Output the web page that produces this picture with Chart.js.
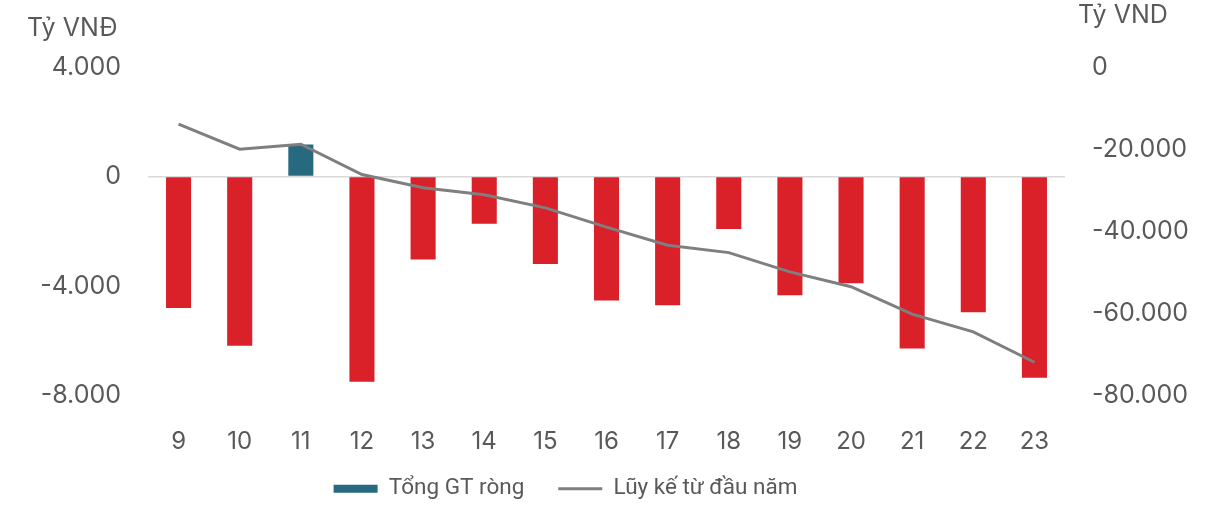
<!DOCTYPE html>
<html>
<head>
<meta charset="utf-8">
<script src="https://cdn.jsdelivr.net/npm/chart.js@4"></script>
<style>
  html, body { margin: 0; padding: 0; background: #fff; }
  #wrap { width: 1221px; height: 505px; }
</style>
</head>
<body>
<div id="wrap"><canvas id="chart"></canvas></div>
<script>
const weeks = ['9', '10', '11', '12', '13', '14', '15', '16', '17', '18', '19', '20', '21', '22', '23'];
// Tổng GT ròng (tỷ VNĐ, trục trái)
const netValue = [-4800, -6180, 1170, -7500, -3030, -1730, -3200, -4530, -4700, -1915, -4340, -3900, -6280, -4960, -7350];
// Lũy kế từ đầu năm (tỷ VND, trục phải)
const ytdValue = [-13900, -20000, -18800, -26200, -29400, -31100, -34300, -39000, -43400, -45200, -49900, -53500, -60200, -64500, -71900];
const leftTicks = [4000, 0, -4000, -8000];
const rightTicks = [0, -20000, -40000, -60000, -80000];

const AXIS_FONT = 'Inter';
const LEGEND_FONT = 'Roboto';
const GREY = '#595959';
const fmt = v => v.toLocaleString('de-DE');

// vẽ tên trục ở góc trên
const axisTitles = {
  id: 'axisTitles',
  afterLayout(chart) {
    // nhãn trục x không bị cắt bởi vùng legend
    chart.scales.x.bottom = chart.height;
    // legend lệch trái như bản gốc
    chart.legend.left -= 45;
    chart.legend.right -= 45;
  },
  afterDraw(chart) {
    const ctx = chart.ctx;
    ctx.save();
    ctx.fillStyle = GREY;
    ctx.font = '25px ' + AXIS_FONT;
    ctx.textBaseline = 'middle';
    ctx.textAlign = 'left';
    ctx.fillText('Tỷ VNĐ', 27, 28);
    ctx.fillText('Tỷ VND', 1078, 15);
    ctx.restore();
  }
};

new Chart(document.getElementById('chart'), {
  data: {
    labels: weeks,
    datasets: [
      {
        type: 'bar',
        label: 'Tổng GT ròng',
        data: netValue,
        yAxisID: 'y',
        backgroundColor: netValue.map(v => v > 0 ? '#276A80' : '#DA2028'),
        barPercentage: 1,
        categoryPercentage: 0.41,
        order: 2
      },
      {
        type: 'line',
        label: 'Lũy kế từ đầu năm',
        data: ytdValue,
        yAxisID: 'y1',
        borderColor: '#7F7F7F',
        backgroundColor: '#7F7F7F',
        borderWidth: 3,
        pointRadius: 0,
        tension: 0,
        order: 1
      }
    ]
  },
  options: {
    responsive: true,
    maintainAspectRatio: false,
    animation: false,
    layout: { padding: { top: 67, left: 0, right: 0, bottom: -5 } },
    plugins: {
      tooltip: { enabled: false },
      legend: {
        position: 'bottom',
        labels: {
          color: GREY,
          font: { family: LEGEND_FONT, size: 22.5 },
          usePointStyle: true,
          pointStyleWidth: 44,
          boxHeight: 8,
          padding: 34,
          generateLabels(chart) {
            const items = Chart.defaults.plugins.legend.labels.generateLabels(chart);
            items.sort((a, b) => a.datasetIndex - b.datasetIndex);
            items[0].pointStyle = 'rect';
            items[0].fillStyle = '#276A80';
            items[0].strokeStyle = '#276A80';
            items[0].lineWidth = 0;
            items[1].pointStyle = 'line';
            items[1].strokeStyle = '#7F7F7F';
            items[1].lineWidth = 3;
            return items;
          }
        }
      }
    },
    scales: {
      x: {
        grid: { display: false },
        border: { display: false },
        ticks: { color: GREY, font: { family: AXIS_FONT, size: 24 }, padding: 24, maxRotation: 0 },
        afterFit(scale) { scale.height = 48; }
      },
      y: {
        position: 'left',
        min: -8000,
        max: 4000,
        afterBuildTicks(scale) { scale.ticks = leftTicks.map(v => ({ value: v })); },
        ticks: { color: GREY, font: { family: AXIS_FONT, size: 25 }, padding: 27, callback: v => fmt(v) },
        grid: {
          drawTicks: false,
          color: ctx => ctx.tick && ctx.tick.value === 0 ? '#D9D9D9' : 'transparent',
          lineWidth: 1.5
        },
        border: { display: false },
        afterFit(scale) { scale.width = 148; }
      },
      y1: {
        position: 'right',
        min: -80000,
        max: 0,
        afterBuildTicks(scale) { scale.ticks = rightTicks.map(v => ({ value: v })); },
        ticks: { color: GREY, font: { family: AXIS_FONT, size: 25 }, padding: 27, callback: v => fmt(v) },
        grid: { display: false, drawTicks: false },
        border: { display: false },
        afterFit(scale) { scale.width = 156; }
      }
    }
  },
  plugins: [axisTitles]
});
</script>
</body>
</html>
